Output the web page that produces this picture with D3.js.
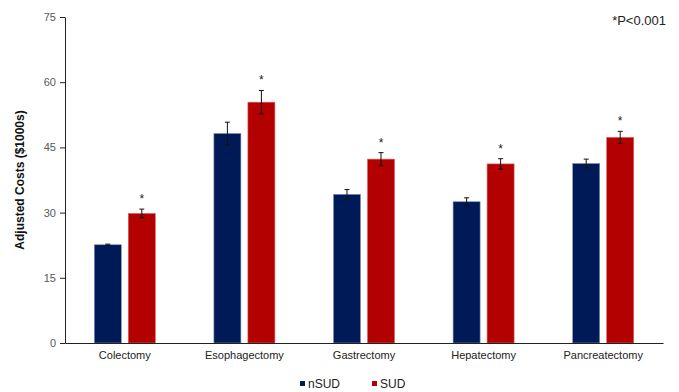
<!DOCTYPE html>
<html><head><meta charset="utf-8">
<script src="https://cdn.jsdelivr.net/npm/d3@7"></script>
<style>body{margin:0;background:#fff}svg{display:block}text{font-family:"Liberation Sans",Arial,sans-serif}</style>
</head><body>
<svg id="c" width="679" height="392"></svg>
<script>
const categories = ["Colectomy","Esophagectomy","Gastrectomy","Hepatectomy","Pancreatectomy"];
const seriesNames = ["nSUD","SUD"];
const nSUD = [22.6, 48.2, 34.2, 32.5, 41.3];
const nSUDErr = [0.15, 2.6, 1.1, 0.9, 1.0];
const SUD = [29.8, 55.4, 42.3, 41.2, 47.3];
const SUDErr = [1.0, 2.7, 1.5, 1.2, 1.4];
const significant = [true, true, true, true, true];
const yTicks = [0, 15, 30, 45, 60, 75];
const colors = {nSUD: "#001a57", SUD: "#b30000"};

(function(){
const svg = d3.select("#c");
const mLeft = 65, mRight = 663, mTop = 17, mBottom = 343;
const x = d3.scaleBand().domain(categories).range([mLeft, mRight]);
const y = d3.scaleLinear().domain([0, 75]).range([mBottom, mTop]);
const bw = 27, gap = 7;

const data = categories.map((c,i)=>({c, vals:[
  {s:seriesNames[0], v:nSUD[i], e:nSUDErr[i]},
  {s:seriesNames[1], v:SUD[i], e:SUDErr[i]}], sig:significant[i]}));

const g = svg.append("g");
const groups = g.selectAll("g.grp").data(data).join("g")
  .attr("transform", d => `translate(${x(d.c) + (x.bandwidth() - (2*bw+gap))/2},0)`);
const barX = s => s === "nSUD" ? 0 : bw + gap;
groups.selectAll("rect").data(d=>d.vals).join("rect")
  .attr("x", d=>barX(d.s)).attr("width", bw)
  .attr("y", d=>y(d.v)).attr("height", d=>y(0)-y(d.v))
  .attr("fill", d=>colors[d.s]).attr("stroke", d=> d.s==="nSUD" ? "#8090b8" : "#e06060").attr("stroke-width",0.6);
const eb = groups.selectAll("g.eb").data(d=>d.vals).join("g").attr("class","eb");
eb.append("line").attr("x1",d=>barX(d.s)+bw/2).attr("x2",d=>barX(d.s)+bw/2)
  .attr("y1",d=>y(d.v+d.e)).attr("y2",d=>y(d.v-d.e)).attr("stroke","#111").attr("stroke-width",1);
eb.append("line").attr("x1",d=>barX(d.s)+bw/2-2.5).attr("x2",d=>barX(d.s)+bw/2+2.5)
  .attr("y1",d=>y(d.v+d.e)).attr("y2",d=>y(d.v+d.e)).attr("stroke","#111").attr("stroke-width",1);
eb.append("line").attr("x1",d=>barX(d.s)+bw/2-2.5).attr("x2",d=>barX(d.s)+bw/2+2.5)
  .attr("y1",d=>y(d.v-d.e)).attr("y2",d=>y(d.v-d.e)).attr("stroke","#111").attr("stroke-width",1);
groups.filter(d=>d.sig).append("text")
  .attr("x", bw+gap+bw/2).attr("y", d=>y(d.vals[1].v+d.vals[1].e)-6)
  .attr("text-anchor","middle").attr("font-size",12).attr("fill","#222").text("*");

const yAxis = d3.axisLeft(y).tickValues(yTicks).tickSize(5).tickSizeOuter(0);
const ya = svg.append("g").attr("transform",`translate(${mLeft},0)`).call(yAxis);
ya.select(".domain").attr("stroke","#222");
ya.selectAll(".tick line").attr("stroke","#222");
ya.selectAll(".tick text").attr("font-size",11).attr("fill","#595959").attr("x",-9)
  .style("font-family",'"Liberation Sans",Arial,sans-serif');

const xAxis = d3.axisBottom(x).tickSize(0).tickSizeOuter(0);
const xa = svg.append("g").attr("transform",`translate(0,${mBottom})`).call(xAxis);
xa.select(".domain").attr("stroke","#222");
xa.selectAll(".tick text").attr("font-size",11).attr("fill","#222").attr("dy","0.71em").attr("y",8)
  .style("font-family",'"Liberation Sans",Arial,sans-serif');

svg.append("text").attr("transform",`translate(24,${(mTop+mBottom)/2}) rotate(-90)`)
  .attr("text-anchor","middle").attr("font-size",12).attr("font-weight","bold").attr("fill","#111")
  .text("Adjusted Costs ($1000s)");

svg.append("text").attr("x",666).attr("y",25).attr("text-anchor","end").attr("font-size",13).attr("fill","#222").text("*P<0.001");

const leg = svg.append("g");
const legItems = [{s:seriesNames[0], x:300},{s:seriesNames[1], x:372}];
legItems.forEach(it=>{
  leg.append("rect").attr("x",it.x).attr("y",381).attr("width",5).attr("height",5).attr("fill",colors[it.s]);
  leg.append("text").attr("x",it.x+8).attr("y",388).attr("font-size",12).attr("fill","#222").text(it.s);
});
})();
</script>
</body></html>
